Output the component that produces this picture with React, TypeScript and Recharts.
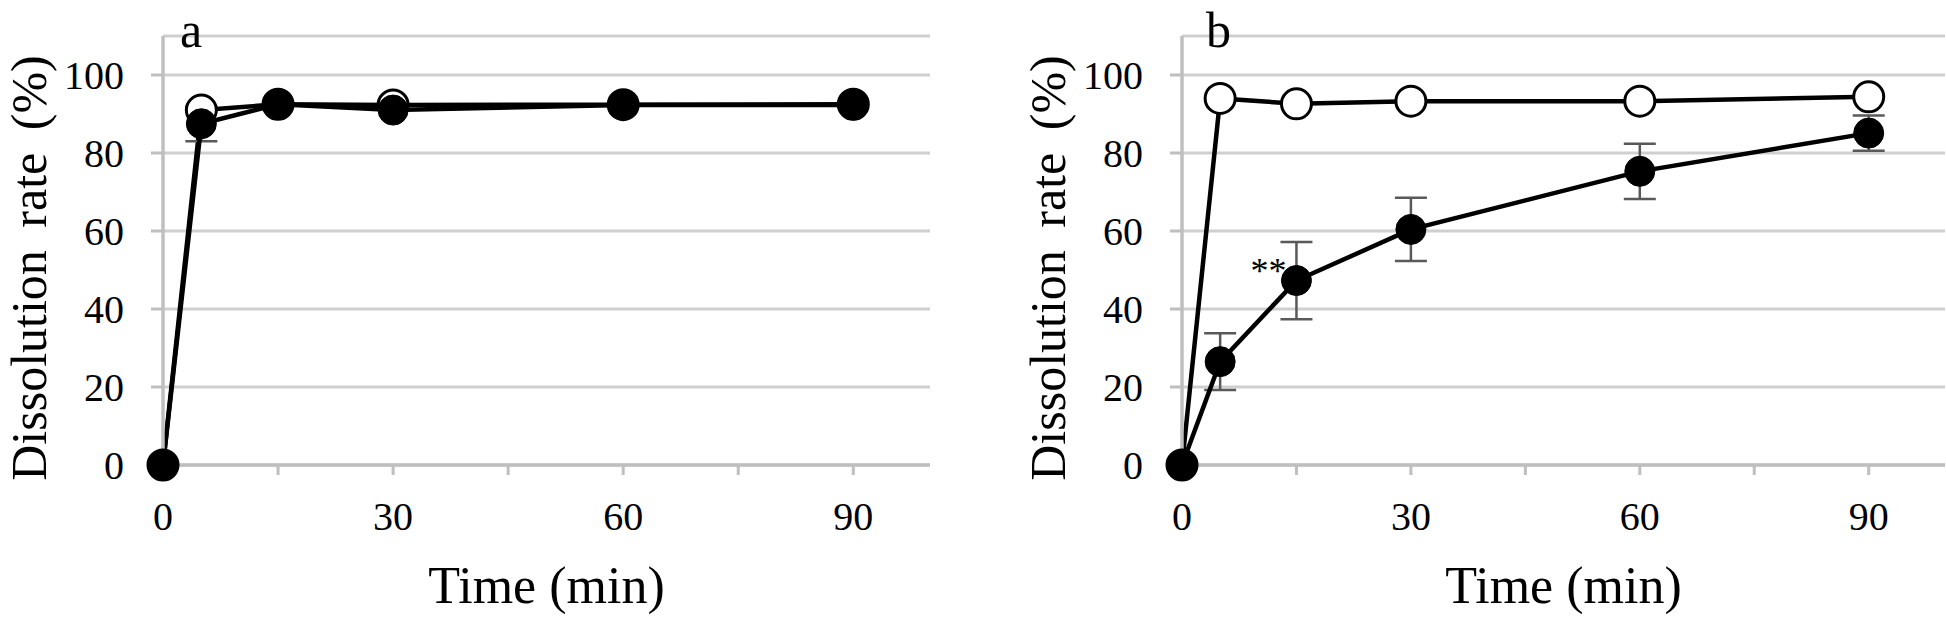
import React from 'react';
import { LineChart, Line, XAxis, YAxis, CartesianGrid, ErrorBar, Label, LabelList } from 'recharts';

const times = [0, 5, 15, 30, 60, 90];
const aOpen = [0, 91, 92.5, 92.3, 92.4, 92.5];
const aFilled = [0, 87.5, 92.5, 91, 92.3, 92.3];
const aFilledSd = [0, 4.5, 0, 0, 0, 0];
const bOpen = [0, 94, 92.6, 93.3, 93.3, 94.4];
const bFilled = [0, 26.5, 47.3, 60.4, 75.3, 85.1];
const bFilledSd = [0, 7.3, 9.9, 8.1, 7.1, 4.5];
const bNotes = ['', '', '**', '', '', ''];

const timeTicks = [0, 15, 30, 45, 60, 75, 90];
const rateTicks = [0, 20, 40, 60, 80, 100];

const serif = "'Liberation Serif', 'Times New Roman', serif";
const axisGrey = '#bfbfbf';

type Row = { t: number; open: number; filled: number; sd: number; note: string };

const makeRows = (open: number[], filled: number[], sd: number[], notes?: string[]): Row[] =>
  times.map((t, i) => ({ t, open: open[i], filled: filled[i], sd: sd[i], note: notes ? notes[i] : '' }));

const rowsA = makeRows(aOpen, aFilled, aFilledSd);
const rowsB = makeRows(bOpen, bFilled, bFilledSd, bNotes);

const tickStyle = { fill: '#000', fontSize: 40, fontFamily: serif };

// rotated y title, baseline kept near x=46 so the glyph box stays inside the svg
const yTitle = () => (
  <text
    transform="translate(46, 268) rotate(-90)"
    textAnchor="middle"
    fontSize={50}
    fontFamily={serif}
    fill="#000"
    wordSpacing={10}
  >
    Dissolution rate (%)
  </text>
);

const stars = (props: any) => {
  const { x, y, value } = props;
  if (!value) return null;
  return (
    <text x={x - 28} y={y + 2} textAnchor="middle" fontSize={36} fontFamily={serif} fill="#000">
      {value}
    </text>
  );
};

type PanelProps = { rows: Row[]; width: number; marginRight: number; withNotes?: boolean };

const Panel = ({ rows, width, marginRight, withNotes }: PanelProps) => (
  <LineChart width={width} height={617} data={rows} margin={{ top: 36, right: marginRight, bottom: 0, left: 0 }}>
    <CartesianGrid vertical={false} stroke="#cfcfcf" strokeWidth={3} />
    <XAxis
      type="number"
      dataKey="t"
      domain={[0, 100]}
      ticks={timeTicks}
      interval={0}
      tickFormatter={(v: number) => (v % 30 === 0 ? String(v) : '')}
      height={152}
      tickSize={10}
      tickMargin={27}
      axisLine={{ stroke: axisGrey, strokeWidth: 3.5 }}
      tickLine={{ stroke: axisGrey, strokeWidth: 3 }}
      tick={tickStyle}
    >
      <Label value="Time (min)" position="insideBottom" offset={14} fontSize={52} fontFamily={serif} fill="#000" />
    </XAxis>
    <YAxis
      type="number"
      domain={[0, 110]}
      ticks={rateTicks}
      interval={0}
      width={163}
      tickSize={12}
      tickMargin={27}
      axisLine={{ stroke: axisGrey, strokeWidth: 3.5 }}
      tickLine={{ stroke: axisGrey, strokeWidth: 3 }}
      tick={tickStyle}
    >
      <Label content={yTitle} />
    </YAxis>
    <Line
      dataKey="open"
      stroke="#000"
      strokeWidth={4.5}
      dot={{ r: 15, fill: '#fff', stroke: '#000', strokeWidth: 3 }}
      activeDot={false}
      isAnimationActive={false}
    />
    <Line
      dataKey="filled"
      stroke="#000"
      strokeWidth={4.5}
      dot={{ r: 15, fill: '#000', stroke: '#000', strokeWidth: 1 }}
      activeDot={false}
      isAnimationActive={false}
    >
      <ErrorBar dataKey="sd" direction="y" width={16} strokeWidth={2.5} stroke="#595959" isAnimationActive={false} />
      {withNotes && <LabelList dataKey="note" content={stars} />}
    </Line>
  </LineChart>
);

export default function App() {
  return (
    <div style={{ position: 'absolute', left: 0, top: 0, width: 1946, height: 617, background: '#fff' }}>
      <div style={{ position: 'absolute', left: 0, top: 0 }}>
        <Panel rows={rowsA} width={960} marginRight={30} />
      </div>
      <div style={{ position: 'absolute', left: 1019, top: 0 }}>
        <Panel rows={rowsB} width={927} marginRight={1} withNotes />
      </div>
      <svg
        width={1946}
        height={617}
        style={{ position: 'absolute', left: 0, top: 0, pointerEvents: 'none' }}
      >
        <text x={180} y={47} fontSize={50} fontFamily={serif} fill="#000">a</text>
        <text x={1206} y={47} fontSize={50} fontFamily={serif} fill="#000">b</text>
      </svg>
    </div>
  );
}
